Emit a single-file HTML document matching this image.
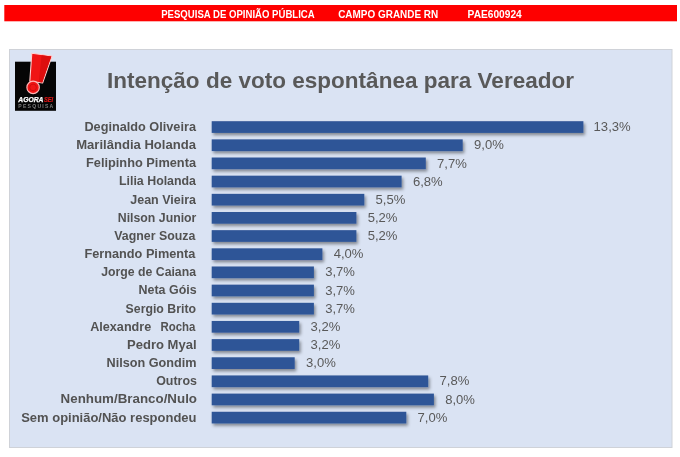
<!DOCTYPE html>
<html lang="pt-BR">
<head>
<meta charset="utf-8">
<title>Intenção de voto espontânea para Vereador</title>
<style>
html,body{margin:0;padding:0;background:#fff;}
body{width:680px;height:457px;overflow:hidden;position:relative;font-family:"Liberation Sans",sans-serif;}
svg{display:block;position:absolute;left:0;top:0;}
text{font-family:"Liberation Sans",sans-serif;}
.lbl{font-weight:bold;font-size:13.1px;fill:#525252;}
.val{font-size:13.1px;fill:#595959;}
.hdr{font-weight:bold;font-size:10.8px;fill:#ffffff;}
.ttl{font-weight:bold;font-size:21.6px;fill:#595959;}
</style>
</head>
<body>
<svg width="680" height="457" viewBox="0 0 680 457">
<defs>
<filter id="sh" x="-5%" y="-50%" width="110%" height="220%">
<feDropShadow dx="1.6" dy="2.3" stdDeviation="1.4" flood-color="#000" flood-opacity="0.40"/>
</filter>
</defs>
<rect x="0" y="0" width="680" height="457" fill="#ffffff"/>
<!-- header -->
<rect x="4.3" y="5" width="672.7" height="16.3" fill="#fe0000"/>
<text class="hdr" x="161.2" y="18.2" textLength="153.5" lengthAdjust="spacingAndGlyphs">PESQUISA DE OPINIÃO PÚBLICA</text>
<text class="hdr" x="338.2" y="18.2" textLength="100" lengthAdjust="spacingAndGlyphs">CAMPO GRANDE RN</text>
<text class="hdr" x="467.6" y="18.2" textLength="54.2" lengthAdjust="spacingAndGlyphs">PAE600924</text>
<!-- panel -->
<rect x="9.5" y="49.5" width="662.5" height="398" fill="#dae3f3" stroke="#cfd2d8" stroke-width="1"/>
<!-- title -->
<text class="ttl" x="107" y="88.2" textLength="467" lengthAdjust="spacingAndGlyphs">Intenção de voto espontânea para Vereador</text>
<!-- logo -->
<g id="logo">
<rect x="15" y="61.7" width="41" height="49.1" fill="#050505"/>
<polygon points="31.8,53.3 52.0,56.0 42.6,83 29.8,81.2" fill="#f01414" stroke="#ffd0d0" stroke-width="1.1" stroke-linejoin="round"/>
<polygon points="41.6,55.2 51.3,56.5 42.3,82.4 38.8,82" fill="#dc0e0e"/>
<circle cx="33.1" cy="87.4" r="6.2" fill="#f01414" stroke="#ffb4b4" stroke-width="1.2"/>
<circle cx="33.1" cy="87.4" r="3.3" fill="none" stroke="#cc0a0a" stroke-width="0.8"/>
<text x="18.3" y="102.1" font-size="6.4" font-weight="bold" font-style="italic" fill="#ffffff" stroke="#ffffff" stroke-width="0.25" textLength="25.2" lengthAdjust="spacingAndGlyphs">AGORA</text>
<text x="43.9" y="102.1" font-size="6.4" font-weight="bold" font-style="italic" fill="#e01515" stroke="#e01515" stroke-width="0.2" textLength="9.2" lengthAdjust="spacingAndGlyphs">SEI</text>
<text x="18.3" y="108.4" font-size="5.1" font-weight="bold" fill="#7e7e7e" textLength="35" lengthAdjust="spacing">PESQUISA</text>
</g>

<g id="bars" fill="#2f5597" filter="url(#sh)">
<rect x="211.7" y="121.20" width="371.7" height="11.7"/>
<rect x="211.7" y="139.36" width="251.0" height="11.7"/>
<rect x="211.7" y="157.52" width="214.1" height="11.7"/>
<rect x="211.7" y="175.68" width="189.9" height="11.7"/>
<rect x="211.7" y="193.84" width="152.6" height="11.7"/>
<rect x="211.7" y="212.00" width="144.7" height="11.7"/>
<rect x="211.7" y="230.16" width="144.7" height="11.7"/>
<rect x="211.7" y="248.32" width="110.7" height="11.7"/>
<rect x="211.7" y="266.48" width="102.2" height="11.7"/>
<rect x="211.7" y="284.64" width="102.2" height="11.7"/>
<rect x="211.7" y="302.80" width="102.2" height="11.7"/>
<rect x="211.7" y="320.96" width="87.5" height="11.7"/>
<rect x="211.7" y="339.12" width="87.5" height="11.7"/>
<rect x="211.7" y="357.28" width="83.0" height="11.7"/>
<rect x="211.7" y="375.44" width="216.5" height="11.7"/>
<rect x="211.7" y="393.60" width="222.2" height="11.7"/>
<rect x="211.7" y="411.76" width="194.6" height="11.7"/>
</g>
<g id="labels">
<text class="lbl" x="84.4" y="131.00" textLength="111.6" lengthAdjust="spacingAndGlyphs">Deginaldo Oliveira</text>
<text class="lbl" x="76.2" y="149.16" textLength="119.8" lengthAdjust="spacingAndGlyphs">Marilândia Holanda</text>
<text class="lbl" x="86.0" y="167.32" textLength="110.0" lengthAdjust="spacingAndGlyphs">Felipinho Pimenta</text>
<text class="lbl" x="119.0" y="185.48" textLength="77.0" lengthAdjust="spacingAndGlyphs">Lilia Holanda</text>
<text class="lbl" x="130.3" y="203.64" textLength="65.7" lengthAdjust="spacingAndGlyphs">Jean Vieira</text>
<text class="lbl" x="117.8" y="221.80" textLength="78.6" lengthAdjust="spacingAndGlyphs">Nilson Junior</text>
<text class="lbl" x="114.3" y="239.96" textLength="81.1" lengthAdjust="spacingAndGlyphs">Vagner Souza</text>
<text class="lbl" x="84.4" y="258.12" textLength="111.0" lengthAdjust="spacingAndGlyphs">Fernando Pimenta</text>
<text class="lbl" x="101.3" y="276.28" textLength="94.7" lengthAdjust="spacingAndGlyphs">Jorge de Caiana</text>
<text class="lbl" x="138.6" y="294.44" textLength="58.0" lengthAdjust="spacingAndGlyphs">Neta Góis</text>
<text class="lbl" x="125.6" y="312.60" textLength="70.4" lengthAdjust="spacingAndGlyphs">Sergio Brito</text>
<text class="lbl" x="90.2" y="330.76" textLength="61.1" lengthAdjust="spacingAndGlyphs">Alexandre</text>
<text class="lbl" x="160.4" y="330.76" textLength="35.0" lengthAdjust="spacingAndGlyphs">Rocha</text>
<text class="lbl" x="127.0" y="348.92" textLength="69.5" lengthAdjust="spacingAndGlyphs">Pedro Myal</text>
<text class="lbl" x="106.5" y="367.08" textLength="90.0" lengthAdjust="spacingAndGlyphs">Nilson Gondim</text>
<text class="lbl" x="156.2" y="385.24" textLength="40.8" lengthAdjust="spacingAndGlyphs">Outros</text>
<text class="lbl" x="60.6" y="403.40" textLength="136.4" lengthAdjust="spacingAndGlyphs">Nenhum/Branco/Nulo</text>
<text class="lbl" x="21.2" y="421.56" textLength="175.3" lengthAdjust="spacingAndGlyphs">Sem opinião/Não respondeu</text>
</g>
<g id="values">
<text class="val" x="593.6" y="131.20" textLength="37.1" lengthAdjust="spacingAndGlyphs">13,3%</text>
<text class="val" x="474.0" y="149.36" textLength="29.8" lengthAdjust="spacingAndGlyphs">9,0%</text>
<text class="val" x="437.1" y="167.52" textLength="29.8" lengthAdjust="spacingAndGlyphs">7,7%</text>
<text class="val" x="412.9" y="185.68" textLength="29.8" lengthAdjust="spacingAndGlyphs">6,8%</text>
<text class="val" x="375.6" y="203.84" textLength="29.8" lengthAdjust="spacingAndGlyphs">5,5%</text>
<text class="val" x="367.7" y="222.00" textLength="29.8" lengthAdjust="spacingAndGlyphs">5,2%</text>
<text class="val" x="367.7" y="240.16" textLength="29.8" lengthAdjust="spacingAndGlyphs">5,2%</text>
<text class="val" x="333.7" y="258.32" textLength="29.8" lengthAdjust="spacingAndGlyphs">4,0%</text>
<text class="val" x="325.2" y="276.48" textLength="29.8" lengthAdjust="spacingAndGlyphs">3,7%</text>
<text class="val" x="325.2" y="294.64" textLength="29.8" lengthAdjust="spacingAndGlyphs">3,7%</text>
<text class="val" x="325.2" y="312.80" textLength="29.8" lengthAdjust="spacingAndGlyphs">3,7%</text>
<text class="val" x="310.5" y="330.96" textLength="29.8" lengthAdjust="spacingAndGlyphs">3,2%</text>
<text class="val" x="310.5" y="349.12" textLength="29.8" lengthAdjust="spacingAndGlyphs">3,2%</text>
<text class="val" x="306.0" y="367.28" textLength="29.8" lengthAdjust="spacingAndGlyphs">3,0%</text>
<text class="val" x="439.5" y="385.44" textLength="29.8" lengthAdjust="spacingAndGlyphs">7,8%</text>
<text class="val" x="445.2" y="403.60" textLength="29.8" lengthAdjust="spacingAndGlyphs">8,0%</text>
<text class="val" x="417.6" y="421.76" textLength="29.8" lengthAdjust="spacingAndGlyphs">7,0%</text>
</g>
</svg>
</body>
</html>
